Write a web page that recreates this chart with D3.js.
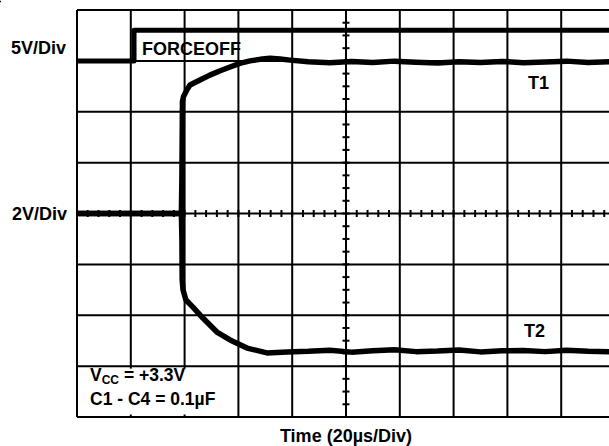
<!DOCTYPE html>
<html>
<head>
<meta charset="utf-8">
<script src="https://cdn.jsdelivr.net/npm/d3@7"></script>
<style>
  body { margin: 0; background: #fff; }
  svg { display: block; }
  text { font-family: "Liberation Sans", Arial, sans-serif; font-weight: bold; fill: #000; }
</style>
</head>
<body>
<div id="container"></div>
<script>
// time in µs (20 µs/div), voltages in V
const forceoffTime  = [0, 21.2, 21.2, 200];
const forceoffVolts = [0, 0, 3.0, 3.0];

const t1Time  = [0, 38.8, 39.0, 39.2, 39.6, 40.8, 42.0, 45.7, 49.4, 53.0, 56.9, 60.5, 64.3, 68.0, 71.7, 75.5, 79.2,
                 86, 94, 102, 110, 118, 126, 134, 142, 150, 158, 166, 174, 182, 190, 200];
const t1Volts = [0, 0, 1.5, 4.4, 4.6, 4.85, 5.05, 5.25, 5.44, 5.6, 5.76, 5.9, 6.0, 6.06, 6.1, 6.07, 6.03,
                 5.97, 5.93, 5.98, 5.94, 5.99, 5.95, 5.92, 5.97, 5.94, 5.98, 5.93, 5.96, 5.99, 5.94, 5.97];

const t2Time  = [0, 38.8, 39.0, 39.1, 39.4, 40.5, 43.1, 46.8, 52.0, 56.9, 63.2, 70.6, 78.1,
                 86, 94, 102, 110, 118, 126, 134, 142, 150, 158, 166, 174, 182, 190, 200];
const t2Volts = [0, 0, -1.0, -2.6, -3.0, -3.4, -3.68, -4.11, -4.66, -4.97, -5.29, -5.48, -5.44,
                 -5.42, -5.38, -5.45, -5.4, -5.36, -5.43, -5.41, -5.37, -5.44, -5.4, -5.39, -5.43, -5.38, -5.42, -5.44];

const forceoffVoltsPerDiv = 5, forceoffZeroDiv = 3;
const tVoltsPerDiv = 2;

const width = 609;
const height = 446;

const x = d3.scaleLinear([0, 200], [77, 615]);
const y = d3.scaleLinear([-4, 4], [417, 10]);   // in divisions

const svg = d3.create("svg")
  .attr("width", width)
  .attr("height", height);

// grid
const grid = svg.append("g").attr("stroke", "#000").attr("stroke-width", 2);
grid.selectAll(".vx").data(d3.range(0, 201, 20)).join("line")
  .attr("x1", d => x(d)).attr("x2", d => x(d))
  .attr("y1", y(4)).attr("y2", y(-4));
grid.selectAll(".hy").data(d3.range(-4, 5, 1)).join("line")
  .attr("x1", x(0)).attr("x2", x(200))
  .attr("y1", d => y(d)).attr("y2", d => y(d));

// minor ticks on the centre lines
grid.selectAll(".tx").data(d3.range(0, 201, 4)).join("line")
  .attr("x1", d => x(d)).attr("x2", d => x(d))
  .attr("y1", y(0) - 3.5).attr("y2", y(0) + 3.5);
grid.selectAll(".ty").data(d3.range(-4, 4.01, 0.25)).join("line")
  .attr("x1", x(100) - 3.5).attr("x2", x(100) + 3.5)
  .attr("y1", d => y(d)).attr("y2", d => y(d));

// white box behind the conditions note
svg.append("rect")
  .attr("x", x(0) + 2).attr("y", y(-3) + 2.5)
  .attr("width", x(60) - x(0) - 4).attr("height", y(-4) - y(-3) - 5)
  .attr("fill", "#fff");

// FORCEOFF label with white background
const fo = svg.append("text").attr("x", 142).attr("y", 55).attr("font-size", 18).text("FORCEOFF");
const fb = fo.node().getBBox();
svg.insert("rect", "text")
  .attr("x", fb.x - 4).attr("y", fb.y - 3)
  .attr("width", fb.width + 2).attr("height", fb.height + 3)
  .attr("fill", "#fff");
svg.append("line")
  .attr("x1", fb.x - 1).attr("x2", fb.x + fb.width + 1)
  .attr("y1", fb.y + 1.5).attr("y2", fb.y + 1.5)
  .attr("stroke", "#000").attr("stroke-width", 1.5);

// traces
const trace = (ts, vs, toDiv, w) => {
  const line = d3.line().x(i => x(ts[i])).y(i => y(toDiv(vs[i])));
  svg.append("path")
    .attr("fill", "none")
    .attr("stroke", "#000")
    .attr("stroke-width", w)
    .attr("stroke-linejoin", "round")
    .attr("d", line(d3.range(ts.length)));
};
trace(forceoffTime, forceoffVolts, v => forceoffZeroDiv + v / forceoffVoltsPerDiv, 5);
trace(t1Time, t1Volts, v => v / tVoltsPerDiv, 5.5);
trace(t2Time, t2Volts, v => v / tVoltsPerDiv, 5.5);

// labels
svg.append("text").attr("x", 66).attr("y", 54).attr("text-anchor", "end").attr("font-size", 18).text("5V/Div");
svg.append("text").attr("x", 67).attr("y", 220).attr("text-anchor", "end").attr("font-size", 18).text("2V/Div");
svg.append("text").attr("x", 528).attr("y", 89).attr("font-size", 18).text("T1");
svg.append("text").attr("x", 524).attr("y", 337).attr("font-size", 18).text("T2");

const vcc = svg.append("text").attr("x", 90).attr("y", 381).attr("font-size", 17.5);
vcc.append("tspan").text("V");
vcc.append("tspan").attr("font-size", 12).attr("dy", 3).text("CC");
vcc.append("tspan").attr("dy", -3).text(" = +3.3V");
svg.append("text").attr("x", 90).attr("y", 405).attr("font-size", 17.5).text("C1 - C4 = 0.1µF");

svg.append("text").attr("x", x(100)).attr("y", 442).attr("text-anchor", "middle").attr("font-size", 18)
  .text("Time (20µs/Div)");

document.getElementById("container").append(svg.node());
</script>
</body>
</html>
